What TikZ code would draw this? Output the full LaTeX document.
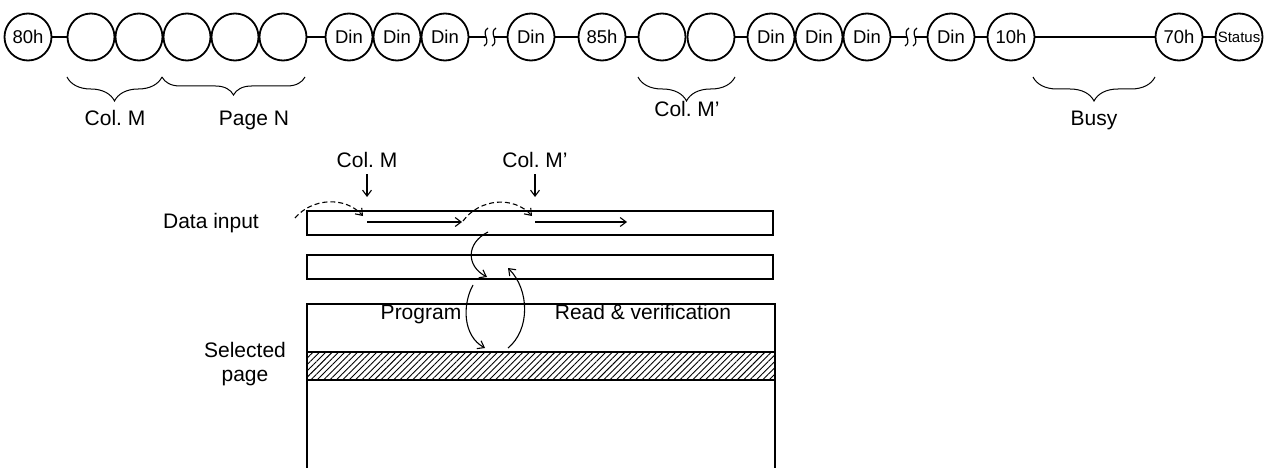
\documentclass[tikz,border=0pt]{standalone}
\usepackage{fontspec}
\setmainfont{Liberation Sans}
\usetikzlibrary{arrows.meta,decorations.pathreplacing,patterns.meta}
\begin{document}
\frenchspacing
\begin{tikzpicture}[x=1pt,y=-1pt,
  circ/.style={circle,draw,line width=1.8pt,minimum size=47pt,inner sep=0pt,font=\fontsize{18.5}{20}\selectfont},
  link/.style={line width=1.8pt},
  lbl/.style={font=\fontsize{21}{24}\selectfont,inner sep=0pt},
  brc/.style={decorate,decoration={brace,amplitude=#1},line width=1pt},
  bar/.style={draw,line width=1.3pt},
  arr/.style={line width=1.1pt,-{Straight Barb[length=6pt,width=9pt]}},
  darr/.style={arr,dashed,dash pattern=on 5pt off 3pt},
  sq/.style={line width=1.2pt},
]
\useasboundingbox (0,0) rectangle (1268,468);

% ---- top command sequence ----
\node[circ] (c1)  at (28,37)  {80h};
\node[circ] (c2)  at (91,37)  {};
\node[circ] (c3)  at (139,37) {};
\node[circ] (c4)  at (187,37) {};
\node[circ] (c5)  at (235,37) {};
\node[circ] (c6)  at (283,37) {};
\node[circ] (d1)  at (349,37) {Din};
\node[circ] (d2)  at (397,37) {Din};
\node[circ] (d3)  at (445,37) {Din};
\node[circ] (d4)  at (531,37) {Din};
\node[circ] (c85) at (602,37) {85h};
\node[circ] (e1)  at (662,37) {};
\node[circ] (e2)  at (711,37) {};
\node[circ] (d5)  at (771,37) {Din};
\node[circ] (d6)  at (819,37) {Din};
\node[circ] (d7)  at (867,37) {Din};
\node[circ] (d8)  at (951,37) {Din};
\node[circ] (c10) at (1011,37) {10h};
\node[circ] (c70) at (1179,37) {70h};
\node[circ,font=\fontsize{15}{17}\selectfont] (st) at (1239,37) {Status};

\coordinate (s1) at (486,37);
\coordinate (s2) at (494,37);
\coordinate (s3) at (907,37);
\coordinate (s4) at (915,37);

\draw[link] (c1) -- (c2);
\draw[link] (c6) -- (d1);
\draw[link] (d3) -- (s1);
\draw[link] (s2) -- (d4);
\draw[link] (d4) -- (c85);
\draw[link] (c85) -- (e1);
\draw[link] (e2) -- (d5);
\draw[link] (d7) -- (s3);
\draw[link] (s4) -- (d8);
\draw[link] (d8) -- (c10);
\draw[link] (c10) -- (c70);
\draw[link] (c70) -- (st);

\foreach \s in {s1,s2,s3,s4}
  \draw[sq,shift={(\s)}] (2,-9) .. controls (-6,-4) and (6,4) .. (-2,9);

% ---- braces ----
\draw[brc=24pt] (162,77) -- (67,77);
\draw[brc=18pt] (305,77) -- (162,77);
\draw[brc=24pt] (735,77) -- (638,77);
\draw[brc=24pt] (1155,77) -- (1033,77);
\node[lbl,anchor=base] (lcm)  at (115,125) {Col. M};
\node[lbl,anchor=base] (lpn)  at (254,125) {Page N};
\node[lbl,anchor=base] (lcm2) at (687,117) {Col. M’};
\node[lbl,anchor=base] (lbs)  at (1094,125) {Busy};

% ---- lower part ----
\node[lbl,anchor=base] (tcm)  at (367,167) {Col. M};
\node[lbl,anchor=base] (tcm2) at (535,167) {Col. M’};
\node[lbl,anchor=base] (tdi)  at (211,228) {Data input};
\node[lbl,anchor=base,align=center] (tsp) at (245,381) {Selected\\page};
\node[lbl,anchor=base] (tpg)  at (421,319) {Program};
\node[lbl,anchor=base] (trv)  at (643,319) {Read \& verification};

\draw[bar] (307,211) rectangle (773,235);
\draw[bar] (307,255) rectangle (773,279);
\path[pattern={Lines[angle=45,distance=4.5pt,line width=0.9pt]}] (307,352) rectangle (775,380);
\draw[bar] (307,352) rectangle (775,380);
\draw[bar] (307,470) -- (307,304) -- (775,304) -- (775,470);

\coordinate (a1s) at (367,222);
\coordinate (a1e) at (462,222);
\coordinate (a2s) at (535,222);
\coordinate (a2e) at (627,222);
\coordinate (k1) at (367,197);
\coordinate (k2) at (535,197);
\coordinate (ds1) at (295,218);
\coordinate (dt1) at (363,216);
\coordinate (ds2) at (463,221);
\coordinate (dt2) at (532,216);

\draw[arr] (tcm.south) ++(0,7) -- (k1);
\draw[arr] (tcm2.south) ++(0,7) -- (k2);
\draw[arr] (a1s) -- (a1e);
\draw[arr] (a2s) -- (a2e);
\draw[darr] (ds1) .. controls (312,198) and (345,196) .. (dt1);
\draw[darr] (ds2) .. controls (480,198) and (514,196) .. (dt2);

\coordinate (p1) at (488,232);
\coordinate (p2) at (487,277);
\coordinate (p3) at (473,285);
\coordinate (p4) at (485,348);
\coordinate (p5) at (508,348);
\coordinate (p6) at (508,268);
\draw[arr] (p1) .. controls (466,243) and (466,266) .. (p2);
\draw[arr] (p3) .. controls (462,305) and (463,336) .. (p4);
\draw[arr] (p5) .. controls (530,330) and (530,290) .. (p6);
\end{tikzpicture}
\end{document}
